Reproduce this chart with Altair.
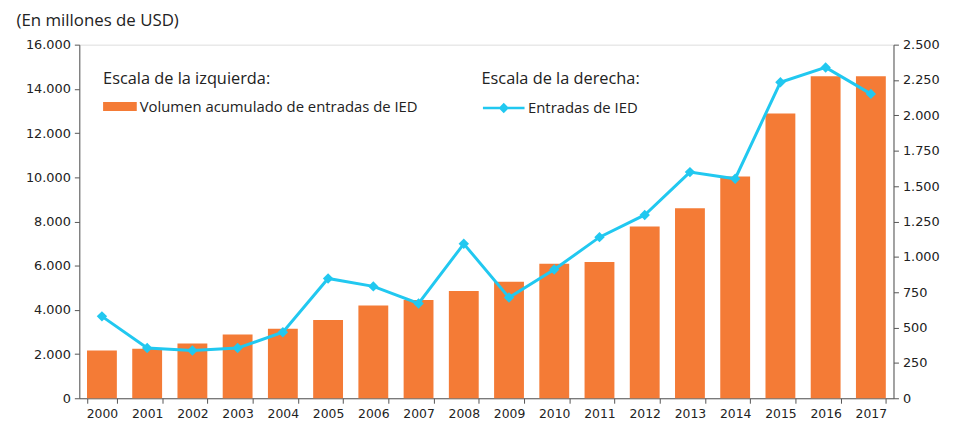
import altair as alt
import pandas as pd

years = ["2000", "2001", "2002", "2003", "2004", "2005", "2006", "2007", "2008",
         "2009", "2010", "2011", "2012", "2013", "2014", "2015", "2016", "2017"]
stock = [2160, 2240, 2480, 2880, 3140, 3540, 4200, 4450, 4850,
         5270, 6090, 6170, 7770, 8600, 10040, 12890, 14570, 14570]
flows = [579, 355, 338, 355, 467, 847, 791, 670, 1092,
         712, 910, 1139, 1296, 1599, 1552, 2234, 2339, 2152]

left_ticks = [0, 2000, 4000, 6000, 8000, 10000, 12000, 14000, 16000]
right_ticks = [0, 250, 500, 750, 1000, 1250, 1500, 1750, 2000, 2250, 2500]

bar_name = "Volumen acumulado de entradas de IED"
line_name = "Entradas de IED"
ORANGE = "#F47B36"
CYAN = "#21C8F0"

df = pd.DataFrame({"year": years, "stock": stock, "flow": flows,
                   "s1": bar_name, "s2": line_name})

lab_expr = "replace(format(datum.value, ','), ',', '.')"
FONT = "DejaVu Sans"
LFONT = "Open Sans"

x_enc = alt.X("year:N", title=None,
              scale=alt.Scale(paddingInner=0.34, paddingOuter=0.17),
              axis=alt.Axis(labelAngle=0, tickBand="extent", labelFont=FONT,
                            labelFontSize=12.5, labelColor="#222", labelPadding=4,
                            domainColor="#555", tickColor="#555", tickSize=5))

bars = alt.Chart(df).mark_bar(color=ORANGE).encode(
    x=x_enc,
    y=alt.Y("stock:Q", title=None,
            scale=alt.Scale(domain=[0, 16000], nice=False),
            axis=alt.Axis(values=left_ticks, labelExpr=lab_expr, grid=False,
                          labelFont=FONT, labelFontSize=13, labelColor="#222",
                          domainColor="#555", tickColor="#555", tickSize=5,
                          labelPadding=4)),
    color=alt.Color("s1:N",
                    scale=alt.Scale(domain=[bar_name], range=[ORANGE]),
                    legend=alt.Legend(title="Escala de la izquierda:", orient="none",
                                      legendX=24, legendY=27,
                                      symbolType="M-1,-0.45H2.4V0.45H-1Z",
                                      symbolSize=400, symbolStrokeWidth=0,
                                      titleFont=LFONT, titleFontSize=16.5,
                                      titleFontWeight="normal", titleColor="#222",
                                      titlePadding=9, labelLimit=0,
                                      labelFont=LFONT, labelFontSize=15,
                                      labelColor="#222", labelOffset=17)),
)

y_right = alt.Y("flow:Q", title=None,
                scale=alt.Scale(domain=[0, 2500], nice=False),
                axis=alt.Axis(orient="right", values=right_ticks, labelExpr=lab_expr,
                              grid=False, labelFont=FONT, labelFontSize=13,
                              labelColor="#222", domainColor="#555",
                              tickColor="#555", tickSize=5, labelPadding=4))

line = alt.Chart(df).mark_line(strokeWidth=3).encode(
    x=alt.X("year:N"),
    y=y_right,
    stroke=alt.Stroke("s2:N",
                      scale=alt.Scale(domain=[line_name], range=[CYAN]),
                      legend=alt.Legend(title="Escala de la derecha:", orient="none",
                                        legendX=406, legendY=27,
                                        symbolType="M-1,0H3.2M0.75,0L1.1,-0.35L1.45,0L1.1,0.35Z",
                                        symbolSize=400, symbolStrokeWidth=2.5,
                                        symbolFillColor=CYAN,
                                        titleFont=LFONT, titleFontSize=16.5,
                                        titleFontWeight="normal", titleColor="#222",
                                        titlePadding=9, labelLimit=0,
                                        labelFont=LFONT, labelFontSize=15,
                                        labelColor="#222", labelOffset=24)),
)

points = alt.Chart(df).mark_point(shape="diamond", filled=True, size=110,
                                  color=CYAN, opacity=1).encode(
    x=alt.X("year:N"),
    y=y_right,
)

right_layer = alt.layer(line, points)

chart = alt.layer(bars, right_layer).resolve_scale(y="independent").properties(
    width=822, height=357,
    padding={"left": 8, "top": 2, "right": 5, "bottom": 5},
    title=alt.TitleParams("(En millones de USD)", anchor="start", frame="bounds",
                          font=LFONT, fontSize=17, fontWeight="normal",
                          color="#222", offset=9, dx=-9),
).configure_view(stroke="#666", strokeWidth=1).configure(background="white")

chart.save("out.html", embed_options={"renderer": "svg", "actions": False})
